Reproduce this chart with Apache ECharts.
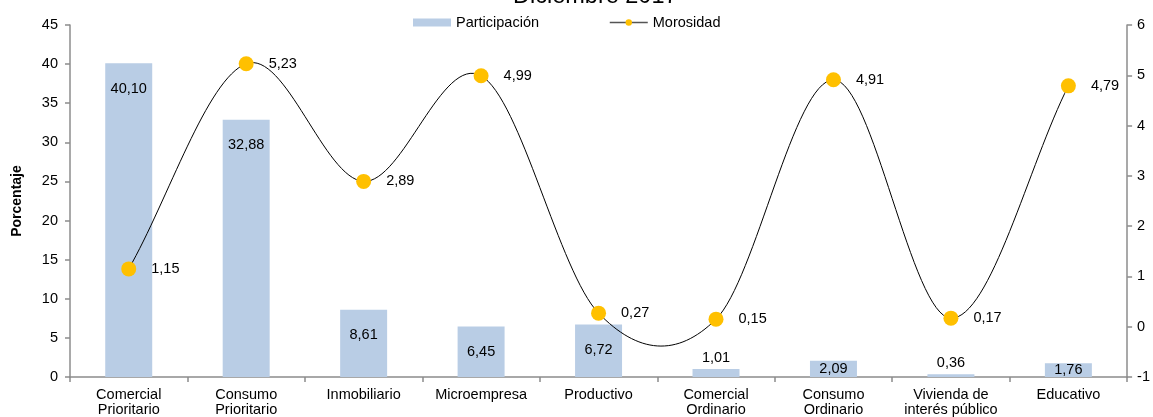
<!DOCTYPE html>
<html>
<head>
<meta charset="utf-8">
<script src="https://cdn.jsdelivr.net/npm/echarts@6/dist/echarts.min.js"></script>
<style>
  html, body { margin: 0; padding: 0; background: #fff; }
  #chart { width: 1153px; height: 417px; }
</style>
</head>
<body>
<div id="chart"></div>
<script>
// Cartera por segmento de crédito, diciembre 2017
const categories = [
  'Comercial\nPrioritario', 'Consumo\nPrioritario', 'Inmobiliario', 'Microempresa',
  'Productivo', 'Comercial\nOrdinario', 'Consumo\nOrdinario',
  'Vivienda de\ninterés público', 'Educativo'
];
const participacion = [40.10, 32.88, 8.61, 6.45, 6.72, 1.01, 2.09, 0.36, 1.76];
const morosidad = [1.15, 5.23, 2.89, 4.99, 0.27, 0.15, 4.91, 0.17, 4.79];
const leftTicks = { min: 0, max: 45, interval: 5 };
const rightTicks = { min: -1, max: 6, interval: 1 };

const fmt = v => v.toFixed(2).replace('.', ',');
const FONT = 'Liberation Sans, Arial, sans-serif';
const FS = 14.5;
const AXIS_COLOR = '#8c8c8c';
const BAR_COLOR = '#B9CDE5';
const DOT_COLOR = '#FFC000';

// Bar labels: inside near the top for tall bars, centred for short ones, above for tiny ones
const barData = participacion.map(v => {
  let label;
  if (v >= 5) label = { position: 'insideTop', distance: 18 };
  else if (v >= 1.5) label = { position: 'inside' };
  else label = { position: 'top', distance: 4 };
  return { value: v, label };
});

// Cardinal (Catmull-Rom) spline through the morosidad points, one Bézier per segment.
// x of the control points is interpolated in pixels (the category axis snaps fractional indices).
function curveSegment(params, api) {
  const i = params.dataIndex;
  const n = morosidad.length;
  if (i >= n - 1) return null;
  const y = k => morosidad[Math.max(0, Math.min(n - 1, k))];
  const t0 = (y(i + 1) - y(i - 1)) / ((i === 0) ? 1 : 2);
  const t1 = (y(i + 2) - y(i)) / ((i + 1 === n - 1) ? 1 : 2);
  const p0 = api.coord([i, y(i)]);
  const p1 = api.coord([i + 1, y(i + 1)]);
  const dx = (p1[0] - p0[0]) / 3;
  const cy0 = api.coord([i, y(i) + t0 / 3])[1];
  const cy1 = api.coord([i + 1, y(i + 1) - t1 / 3])[1];
  return {
    type: 'path',
    shape: {
      pathData: 'M' + p0[0] + ' ' + p0[1] +
        ' C' + (p0[0] + dx) + ' ' + cy0 + ' ' + (p1[0] - dx) + ' ' + cy1 + ' ' + p1[0] + ' ' + p1[1],
      layout: 'cover'
    },
    style: { stroke: '#000', lineWidth: 1, fill: 'none' },
    silent: true
  };
}

const chart = echarts.init(document.getElementById('chart'), null, { renderer: 'canvas' });
chart.setOption({
  animation: false,
  textStyle: { fontFamily: FONT },
  title: {
    text: 'Diciembre 2017',
    left: 508,
    top: -20,
    textStyle: { fontFamily: FONT, fontSize: 23.5, fontWeight: 'normal', color: '#000' }
  },
  legend: {
    top: 10,
    left: 408,
    itemGap: 70,
    textStyle: { fontFamily: FONT, fontSize: FS, color: '#000' },
    data: [
      { name: 'Participación', icon: 'rect', itemStyle: { color: BAR_COLOR } },
      { name: 'Morosidad', lineStyle: { color: '#555', width: 1.5, opacity: 1 } }
    ],
    itemWidth: 38,
    itemHeight: 8
  },
  grid: { left: 70, right: 25, top: 25, bottom: 40, containLabel: false },
  xAxis: {
    type: 'category',
    data: categories,
    boundaryGap: true,
    axisLine: { lineStyle: { color: AXIS_COLOR, width: 1.5 } },
    axisTick: { show: true, length: 5, lineStyle: { color: AXIS_COLOR, width: 1.5 } },
    axisLabel: { color: '#000', fontSize: FS, fontFamily: FONT, margin: 10, lineHeight: 15, interval: 0 }
  },
  yAxis: [
    {
      type: 'value',
      min: leftTicks.min, max: leftTicks.max, interval: leftTicks.interval,
      name: 'Porcentaje',
      nameLocation: 'middle',
      nameGap: 46,
      nameTextStyle: { fontFamily: FONT, fontSize: 14, fontWeight: 'bold', color: '#000' },
      axisLine: { show: true, lineStyle: { color: AXIS_COLOR, width: 1.5 } },
      axisTick: { show: true, length: 5, lineStyle: { color: AXIS_COLOR, width: 1.5 } },
      axisLabel: { color: '#000', fontSize: FS, fontFamily: FONT, margin: 12 },
      splitLine: { show: false }
    },
    {
      type: 'value',
      min: rightTicks.min, max: rightTicks.max, interval: rightTicks.interval,
      position: 'right',
      axisLine: { show: true, lineStyle: { color: AXIS_COLOR, width: 1.5 } },
      axisTick: { show: true, length: 5, lineStyle: { color: AXIS_COLOR, width: 1.5 } },
      axisLabel: { color: '#000', fontSize: FS, fontFamily: FONT, margin: 10 },
      splitLine: { show: false }
    }
  ],
  series: [
    {
      name: 'Participación',
      type: 'bar',
      yAxisIndex: 0,
      barWidth: '40%',
      data: barData,
      itemStyle: { color: BAR_COLOR },
      label: {
        show: true,
        color: '#000',
        fontSize: FS,
        fontFamily: FONT,
        formatter: p => fmt(p.value)
      },
      z: 2
    },
    {
      name: 'curva',
      type: 'custom',
      xAxisIndex: 0,
      yAxisIndex: 1,
      data: morosidad.map((v, i) => [i, v]),
      renderItem: curveSegment,
      clip: false,
      silent: true,
      z: 3
    },
    {
      name: 'Morosidad',
      type: 'line',
      yAxisIndex: 1,
      data: morosidad,
      symbol: 'circle',
      symbolSize: 15,
      lineStyle: { color: '#000', width: 1, opacity: 0 },
      itemStyle: { color: DOT_COLOR, borderWidth: 0 },
      label: {
        show: true,
        position: 'right',
        distance: 15,
        color: '#000',
        fontSize: FS,
        fontFamily: FONT,
        formatter: p => fmt(p.value)
      },
      z: 4
    }
  ]
});
</script>
</body>
</html>
